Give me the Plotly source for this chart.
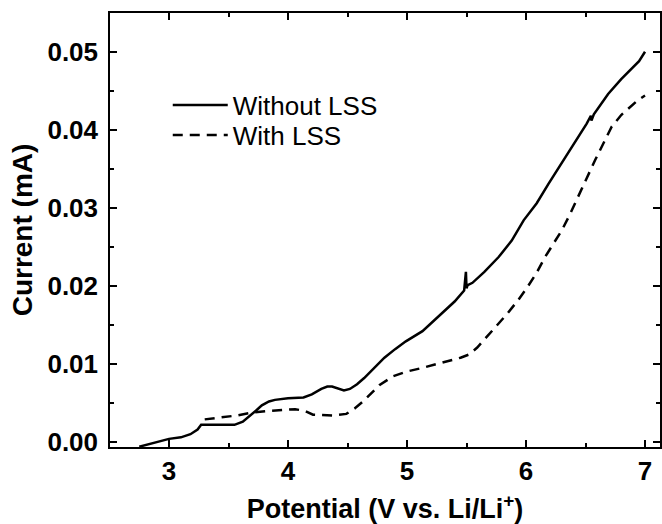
import plotly.graph_objects as go

# Without LSS (solid)
x_without = [2.75, 2.85, 3.0, 3.1, 3.18, 3.24, 3.27, 3.40, 3.55, 3.62, 3.67, 3.73, 3.78, 3.84, 3.89,
             4.0, 4.13, 4.2, 4.28, 4.33, 4.37, 4.42, 4.47, 4.52, 4.58, 4.64, 4.70, 4.81, 4.9, 4.99,
             5.13, 5.30, 5.40, 5.48, 5.495, 5.50, 5.51, 5.55, 5.65, 5.77, 5.88, 5.98, 6.09, 6.19,
             6.33, 6.43, 6.51, 6.545, 6.55, 6.57, 6.69, 6.80, 6.87, 6.95, 7.0]
y_without = [-0.0006, -0.0002, 0.0004, 0.0006, 0.0010, 0.0016, 0.0022, 0.0022, 0.0022, 0.0026, 0.0032,
             0.0040, 0.0047, 0.0052, 0.0054, 0.0056, 0.0057, 0.0061, 0.0068, 0.0071, 0.0071, 0.0069,
             0.0066, 0.0068, 0.0074, 0.0082, 0.0091, 0.0108, 0.0119, 0.0129, 0.0142, 0.0166, 0.0180,
             0.0194, 0.0218, 0.0197, 0.0201, 0.0204, 0.0218, 0.0237, 0.0258, 0.0284, 0.0306, 0.0331,
             0.0365, 0.0388, 0.0408, 0.0418, 0.0412, 0.0420, 0.0446, 0.0465, 0.0476, 0.0488, 0.0500]

# With LSS (dashed)
x_with = [3.30, 3.43, 3.57, 3.71, 3.85, 4.06, 4.14, 4.21, 4.30, 4.38, 4.49, 4.56, 4.63, 4.70, 4.77,
          4.88, 4.99, 5.13, 5.34, 5.45, 5.52, 5.59, 5.66, 5.75, 5.84, 5.93, 6.01, 6.09, 6.16, 6.23,
          6.30, 6.37, 6.44, 6.51, 6.58, 6.65, 6.72, 6.80, 6.87, 6.94, 7.0]
y_with = [0.0029, 0.0031, 0.0034, 0.0038, 0.0040, 0.0042, 0.0040, 0.0035, 0.0034, 0.0034, 0.0036,
          0.0043, 0.0052, 0.0062, 0.0073, 0.0084, 0.0090, 0.0095, 0.0103, 0.0108, 0.0112, 0.0121,
          0.0133, 0.0148, 0.0164, 0.0181, 0.0198, 0.0217, 0.0237, 0.0254, 0.0271, 0.0292, 0.0314,
          0.0338, 0.0361, 0.0383, 0.0404, 0.0419, 0.0429, 0.0438, 0.0444]

x_ticks = [3, 4, 5, 6, 7]
y_ticks = [0.00, 0.01, 0.02, 0.03, 0.04, 0.05]
y_tick_labels = ["0.00", "0.01", "0.02", "0.03", "0.04", "0.05"]

fig = go.Figure()
fig.add_trace(go.Scatter(x=x_without, y=y_without, mode="lines", name="Without LSS",
                         line=dict(color="black", width=2.5), legend="legend"))
fig.add_trace(go.Scatter(x=x_with, y=y_with, mode="lines", name="With LSS",
                         line=dict(color="black", width=2.5, dash="10px,7px"), legend="legend2"))

axis_common = dict(showgrid=False, zeroline=False, showline=True, linecolor="black", linewidth=1.5,
                   mirror="ticks", ticks="inside", ticklen=7, tickwidth=1.5, tickcolor="black",
                   tickfont=dict(family="Liberation Sans", size=26, color="black", weight="bold"))

fig.update_xaxes(range=[2.504, 7.126], tickvals=x_ticks, ticktext=[str(v) for v in x_ticks],
                 minor=dict(dtick=0.5, tick0=2.5, ticks="inside", ticklen=4, tickwidth=1.5, tickcolor="black"),
                 title=dict(text="Potential (V vs. Li/Li<sup>+</sup>)", standoff=16,
                            font=dict(family="Liberation Sans", size=27, color="black", weight="bold")),
                 **axis_common)
fig.update_yaxes(range=[-0.00064, 0.05497], tickvals=y_ticks, ticktext=y_tick_labels,
                 ticklabelstandoff=5,
                 minor=dict(dtick=0.005, tick0=0, ticks="inside", ticklen=4, tickwidth=1.5, tickcolor="black"),
                 title=dict(text="Current (mA)", standoff=7,
                            font=dict(family="Liberation Sans", size=28, color="black", weight="bold")),
                 **axis_common)

legend_font = dict(family="Liberation Sans", size=26, color="black")
fig.update_layout(
    width=662, height=524,
    margin=dict(l=110, r=0, t=13, b=77),
    paper_bgcolor="white", plot_bgcolor="white",
    showlegend=True,
    legend=dict(x=0.105, y=0.842, xanchor="left", yanchor="top", bgcolor="rgba(0,0,0,0)",
                font=legend_font, itemwidth=55),
    legend2=dict(x=0.105, y=0.773, xanchor="left", yanchor="top", bgcolor="rgba(0,0,0,0)",
                 font=legend_font, itemwidth=55),
)

fig.write_html("out.html")
